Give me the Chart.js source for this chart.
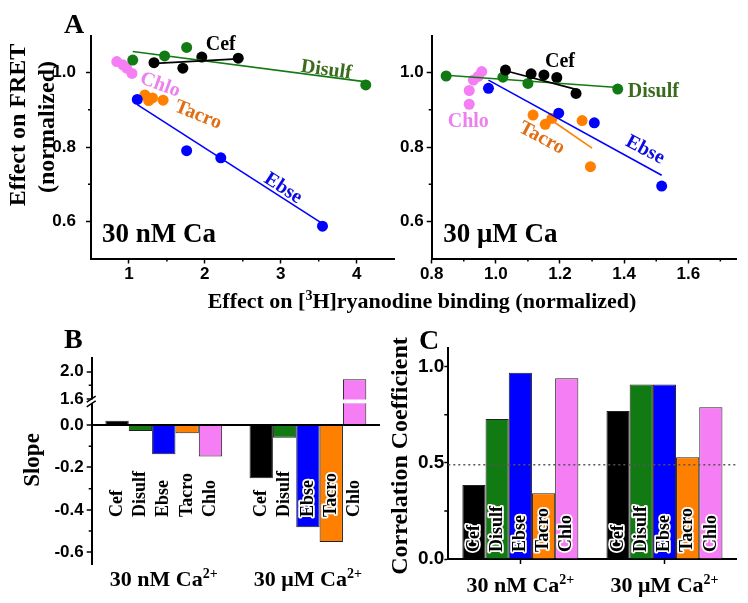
<!DOCTYPE html>
<html>
<head>
<meta charset="utf-8">
<title>FRET vs ryanodine binding</title>
<script src="https://cdn.jsdelivr.net/npm/chart.js@4.4.1/dist/chart.umd.min.js"></script>
<style>
  html, body { margin: 0; padding: 0; background: #fff; }
  #wrap { position: relative; width: 748px; height: 603px; overflow: hidden; background: #fff; }
  #wrap canvas { position: absolute; left: 0; top: 0; }
</style>
</head>
<body>
<div id="wrap">
  <canvas id="panelA1" width="748" height="603"></canvas>
  <canvas id="panelA2" width="748" height="603"></canvas>
  <canvas id="panelB" width="748" height="603"></canvas>
  <canvas id="panelC" width="748" height="603"></canvas>
</div>
<script>
// drugs, in the order used by every panel
const drugs = ['Cef', 'Disulf', 'Ebse', 'Tacro', 'Chlo']
const colors = ['#000000', '#127a12', '#0000ff', '#ff8000', '#f57ef5']
const textColors = ['#000000', '#3b6b1c', '#0a0ae6', '#e26e14', '#ec80ec']

// panel A, 30 nM Ca: [ryanodine binding, FRET]
const nmCef = [[1.33, 1.027], [1.71, 1.012], [1.96, 1.042], [2.44, 1.039]]
const nmDisulf = [[1.05, 1.034], [1.47, 1.045], [1.76, 1.068], [4.12, 0.967]]
const nmEbse = [[1.11, 0.928], [1.76, 0.79], [2.21, 0.771], [3.55, 0.587]]
const nmTacro = [[1.21, 0.94], [1.26, 0.925], [1.31, 0.932], [1.45, 0.926]]
const nmChlo = [[0.84, 1.03], [0.92, 1.021], [0.97, 1.012], [1.04, 0.998]]
// fitted lines (end points)
const nmCefFit = [[1.35, 1.025], [2.43, 1.037]]
const nmDisulfFit = [[1.05, 1.057], [4.1, 0.976]]
const nmEbseFit = [[1.11, 0.914], [3.55, 0.594]]

// panel A, 30 uM Ca
const umCef = [[1.03, 1.007], [1.11, 0.997], [1.15, 0.994], [1.19, 0.987], [1.25, 0.944]]
const umDisulf = [[0.845, 0.991], [1.022, 0.988], [1.1, 0.971], [1.38, 0.956]]
const umEbse = [[0.977, 0.958], [1.196, 0.891], [1.307, 0.865], [1.517, 0.695]]
const umTacro = [[1.116, 0.886], [1.154, 0.861], [1.175, 0.877], [1.269, 0.871], [1.295, 0.747]]
const umChlo = [[0.917, 0.952], [0.917, 0.915], [0.93, 0.98], [0.945, 0.99], [0.956, 1.003]]
const umCefFit = [[1.03, 1.005], [1.25, 0.955]]
const umDisulfFit = [[0.845, 0.993], [1.38, 0.96]]
const umEbseFit = [[0.977, 0.98], [1.517, 0.724]]
const umTacroFit = [[1.16, 0.88], [1.3, 0.797]]

// panels B and C
const groups = ['30 nM Ca', '30 μM Ca']
const slopeNM = [0.02, -0.028, -0.138, -0.039, -0.149]
const slopeUM = [-0.251, -0.06, -0.482, -0.552, 1.89]
const corrNM = [0.385, 0.728, 0.969, 0.342, 0.94]
const corrUM = [0.77, 0.908, 0.908, 0.529, 0.789]
const corrThreshold = 0.49

// tick values
const nmXTicks = [1, 2, 3, 4]
const nmXMinor = [1.5, 2.5, 3.5]
const umXTicks = [0.8, 1.0, 1.2, 1.4, 1.6]
const umXMinor = [0.9, 1.1, 1.3, 1.5, 1.7]
const fretTicks = [0.6, 0.8, 1.0]
const fretMinor = [0.7, 0.9]
const slopeTicks = [-0.6, -0.4, -0.2, 0, 1.6, 2.0]
const slopeMinor = [-0.5, -0.3, -0.1, 1.8]
const corrTicks = [0, 0.5, 1.0]
const corrMinor = [0.25, 0.75]

const serif = '"Liberation Serif", "Times New Roman", serif'
const sans = '"Liberation Sans", Arial, sans-serif'
Chart.defaults.color = '#000'

// y axis with a break between slopeBreak.low and slopeBreak.high
const slopeBreak = { low: 0.1, high: 1.6, lowFrac: 0.7787, gapFrac: 0.0232 }
class BrokenScale extends Chart.LinearScale {
    getPixelForValue(v) {
        const b = slopeBreak, H = this.bottom - this.top
        if (v <= b.low) return this.bottom - (v - this.min) / (b.low - this.min) * H * b.lowFrac
        const y0 = this.bottom - H * (b.lowFrac + b.gapFrac)
        if (v >= b.high) return y0 - (v - b.high) / (this.max - b.high) * (y0 - this.top)
        return this.bottom - H * b.lowFrac - (v - b.low) / (b.high - b.low) * H * b.gapFrac
    }
    getValueForPixel(p) {
        const b = slopeBreak, H = this.bottom - this.top
        const yLow = this.bottom - H * b.lowFrac
        const y0 = this.bottom - H * (b.lowFrac + b.gapFrac)
        if (p >= yLow) return this.min + (this.bottom - p) / (H * b.lowFrac) * (b.low - this.min)
        if (p <= y0) return b.high + (y0 - p) / (y0 - this.top) * (this.max - b.high)
        return b.low + (yLow - p) / (H * b.gapFrac) * (b.high - b.low)
    }
}
BrokenScale.id = 'broken'
BrokenScale.defaults = Chart.LinearScale.defaults
Chart.register(BrokenScale)

function toXY(pairs) {
    return pairs.map(p => ({ x: p[0], y: p[1] }))
}

function drawText(ctx, s, x, y, o) {
    ctx.save()
    ctx.translate(x, y)
    if (o.rot) ctx.rotate(o.rot * Math.PI / 180)
    ctx.font = o.font
    ctx.textAlign = o.align || 'center'
    ctx.textBaseline = o.baseline || 'middle'
    if (o.halo) {
        ctx.lineWidth = o.halo
        ctx.lineJoin = 'round'
        ctx.strokeStyle = '#fff'
        ctx.strokeText(s, 0, 0)
    }
    ctx.fillStyle = o.color || '#000'
    ctx.fillText(s, 0, 0)
    ctx.restore()
}

// text with superscript parts: [[text, isSup], ...]
function drawSup(ctx, parts, x, y, size, align) {
    ctx.save()
    ctx.textAlign = 'left'
    ctx.textBaseline = 'alphabetic'
    ctx.fillStyle = '#000'
    const fonts = parts.map(p => `bold ${p[1] ? Math.round(size * 0.62) : size}px ${serif}`)
    const widths = parts.map((p, i) => { ctx.font = fonts[i]; return ctx.measureText(p[0]).width })
    let cx = align === 'center' ? x - widths.reduce((a, b) => a + b, 0) / 2 : x
    parts.forEach((p, i) => {
        ctx.font = fonts[i]
        ctx.fillText(p[0], cx, p[1] ? y - size * 0.38 : y)
        cx += widths[i]
    })
    ctx.restore()
}

function minorTicks(chart, axis, values, len) {
    const ctx = chart.ctx, sc = chart.scales[axis], a = chart.chartArea
    ctx.save()
    ctx.strokeStyle = '#000'
    ctx.lineWidth = 1.5
    ctx.beginPath()
    values.forEach(v => {
        const p = sc.getPixelForValue(v)
        if (sc.isHorizontal()) { ctx.moveTo(p, a.bottom); ctx.lineTo(p, a.bottom + len) }
        else { ctx.moveTo(a.left, p); ctx.lineTo(a.left - len, p) }
    })
    ctx.stroke()
    ctx.restore()
}

function barNames(chart, yBase) {
    chart.data.datasets.forEach((ds, i) => {
        chart.getDatasetMeta(i).data.forEach(bar => {
            drawText(chart.ctx, drugs[i], bar.x, yBase, { rot: -90, align: 'left', font: `bold 18px ${serif}`, halo: 3.5 })
        })
    })
}

function groupLabels(chart, y) {
    const xs = chart.scales.x
    groups.forEach((g, i) => {
        drawSup(chart.ctx, [[g, false], ['2+', true]], xs.getPixelForValue(i), y, 22, 'center')
    })
}

// layout helper: puts the chart area at the given page box
const YW = 60, XH = 30
function padFor(box) {
    return { left: box.left - YW, right: 748 - box.right, top: box.top, bottom: 603 - box.bottom - XH }
}

function axisGrid(len) {
    return { drawOnChartArea: false, tickLength: len, tickColor: '#000', tickWidth: 1.5 }
}

function scatterPanel(id, sets, fits, box, xMin, xMax, xTicks, xFmt, xMinor, yPad, notes, caption, extra) {
    const datasets = []
    fits.forEach((f, i) => {
        if (f) datasets.push({ data: toXY(f), showLine: true, borderColor: colors[i], borderWidth: 1.6, pointRadius: 0 })
    })
    sets.forEach((s, i) => {
        datasets.push({ data: toXY(s), pointRadius: 5.5, pointBackgroundColor: colors[i], pointBorderWidth: 0 })
    })
    new Chart(document.getElementById(id), {
        type: 'scatter',
        data: { datasets },
        options: {
            responsive: false,
            animation: false,
            layout: { padding: padFor(box) },
            plugins: { legend: { display: false }, tooltip: { enabled: false } },
            scales: {
                x: {
                    min: xMin, max: xMax,
                    afterFit: s => { s.height = XH },
                    afterBuildTicks: s => { s.ticks = xTicks.map(v => ({ value: v })) },
                    ticks: { callback: xFmt, font: { family: sans, weight: 'bold', size: 17 }, padding: 1 },
                    border: { color: '#000', width: 2 },
                    grid: axisGrid(5)
                },
                y: {
                    min: 0.5, max: 1.1,
                    afterFit: s => { s.width = YW },
                    afterBuildTicks: s => { s.ticks = fretTicks.map(v => ({ value: v })) },
                    ticks: { callback: v => v.toFixed(1), font: { family: sans, weight: 'bold', size: 17 }, padding: yPad },
                    border: { color: '#000', width: 2 },
                    grid: axisGrid(5)
                }
            }
        },
        plugins: [{
            id: 'deco',
            afterDraw(chart) {
                const ctx = chart.ctx, xs = chart.scales.x, ys = chart.scales.y
                minorTicks(chart, 'x', xMinor, 3)
                minorTicks(chart, 'y', fretMinor, 3)
                notes.forEach(([t, x, y, rot]) => {
                    drawText(ctx, t, xs.getPixelForValue(x), ys.getPixelForValue(y),
                        { rot, font: `bold 20px ${serif}`, color: textColors[drugs.indexOf(t)] })
                })
                drawText(ctx, caption[0], xs.getPixelForValue(caption[1]), ys.getPixelForValue(caption[2]),
                    { align: 'left', baseline: 'alphabetic', font: `bold 27px ${serif}` })
                if (extra) extra(ctx)
            }
        }]
    })
}

// panel A, left
scatterPanel('panelA1',
    [nmCef, nmDisulf, nmEbse, nmTacro, nmChlo],
    [nmCefFit, nmDisulfFit, nmEbseFit, null, null],
    { left: 91, top: 35.5, right: 394.6, bottom: 258.5 },
    0.5, 4.5, nmXTicks, v => String(v), nmXMinor, 10,
    [['Cef', 2.21, 1.075, 0], ['Disulf', 3.6, 1.007, 8], ['Chlo', 1.41, 0.967, 20],
     ['Tacro', 1.91, 0.886, 22], ['Ebse', 3.03, 0.689, 33]],
    ['30 nM Ca', 0.645, 0.545],
    ctx => {
        drawText(ctx, 'A', 64, 33, { align: 'left', baseline: 'alphabetic', font: `bold 28px ${serif}` })
        drawText(ctx, 'Effect on FRET', 18.5, 125, { rot: -90, font: `bold 24px ${serif}` })
        drawText(ctx, '(normalized)', 48, 127, { rot: -90, font: `bold 24px ${serif}` })
        drawSup(ctx, [['Effect on [', false], ['3', true], ['H]ryanodine binding (normalized)', false]], 422, 308, 22, 'center')
    })

// panel A, right
scatterPanel('panelA2',
    [umCef, umDisulf, umEbse, umTacro, umChlo],
    [umCefFit, umDisulfFit, umEbseFit, umTacroFit, null],
    { left: 431.7, top: 35.5, right: 736.4, bottom: 258.5 },
    0.8, 1.75, umXTicks, v => v.toFixed(1), umXMinor, 3,
    [['Cef', 1.2, 1.03, 0], ['Disulf', 1.491, 0.949, 0], ['Chlo', 0.914, 0.868, 0],
     ['Tacro', 1.143, 0.824, 28], ['Ebse', 1.465, 0.792, 28]],
    ['30 μM Ca', 0.836, 0.545],
    null)

// panel B, slopes
new Chart(document.getElementById('panelB'), {
    type: 'bar',
    data: {
        labels: groups,
        datasets: drugs.map((d, i) => ({
            label: d, data: [slopeNM[i], slopeUM[i]],
            backgroundColor: colors[i], borderColor: '#222', borderWidth: 1
        }))
    },
    options: {
        responsive: false,
        animation: false,
        layout: { padding: { left: 91.7 - YW, right: 748 - 380, top: 358, bottom: 603 - 565 } },
        plugins: { legend: { display: false }, tooltip: { enabled: false } },
        datasets: { bar: { categoryPercentage: 0.81, barPercentage: 1 } },
        scales: {
            x: { display: false },
            y: {
                type: 'broken', min: -0.66, max: 2.2,
                afterFit: s => { s.width = YW },
                afterBuildTicks: s => { s.ticks = slopeTicks.map(v => ({ value: v })) },
                ticks: { callback: v => v.toFixed(1), font: { family: sans, weight: 'bold', size: 17 }, padding: 3 },
                border: { color: '#000', width: 2 },
                grid: {
                    drawOnChartArea: true,
                    color: c => (c.tick && c.tick.value === 0 ? '#000' : 'rgba(0,0,0,0)'),
                    lineWidth: c => (c.tick && c.tick.value === 0 ? 2 : 0),
                    tickLength: 5, tickColor: '#000', tickWidth: 1.5
                }
            }
        }
    },
    plugins: [{
        id: 'decoB',
        afterDraw(chart) {
            const ctx = chart.ctx, a = chart.chartArea, ys = chart.scales.y
            minorTicks(chart, 'y', slopeMinor, 3)
            // axis break
            const y1 = ys.getPixelForValue(slopeBreak.high), y2 = ys.getPixelForValue(slopeBreak.low)
            ctx.save()
            ctx.fillStyle = '#fff'
            ctx.fillRect(a.left - 2, y1 + 0.5, a.right - a.left + 2, y2 - y1 - 1)
            ctx.strokeStyle = '#000'
            ctx.lineWidth = 1.5
            ctx.beginPath()
            ctx.moveTo(a.left - 5, y1 + 3); ctx.lineTo(a.left + 4, y1 - 3)
            ctx.moveTo(a.left - 5, y2 + 3); ctx.lineTo(a.left + 4, y2 - 3)
            ctx.stroke()
            ctx.restore()
            barNames(chart, 517)
            groupLabels(chart, 586)
            drawText(ctx, 'B', 64, 348, { align: 'left', baseline: 'alphabetic', font: `bold 28px ${serif}` })
            drawText(ctx, 'Slope', 33, 460, { rot: -90, font: `bold 23px ${serif}` })
        }
    }]
})

// panel C, correlation coefficients
new Chart(document.getElementById('panelC'), {
    type: 'bar',
    data: {
        labels: groups,
        datasets: drugs.map((d, i) => ({
            label: d, data: [corrNM[i], corrUM[i]],
            backgroundColor: colors[i], borderColor: '#222', borderWidth: 1
        }))
    },
    options: {
        responsive: false,
        animation: false,
        layout: { padding: padFor({ left: 448.3, top: 347.5, right: 736.5, bottom: 559 }) },
        plugins: { legend: { display: false }, tooltip: { enabled: false } },
        datasets: { bar: { categoryPercentage: 0.805, barPercentage: 1 } },
        scales: {
            x: {
                afterFit: s => { s.height = XH },
                ticks: { display: false },
                border: { color: '#000', width: 2 },
                grid: Object.assign(axisGrid(5), { offset: false })
            },
            y: {
                min: 0, max: 1.1,
                afterFit: s => { s.width = YW },
                afterBuildTicks: s => { s.ticks = corrTicks.map(v => ({ value: v })) },
                ticks: { callback: v => v.toFixed(1), font: { family: sans, weight: 'bold', size: 19 }, padding: 0 },
                border: { color: '#000', width: 2 },
                grid: axisGrid(4)
            }
        }
    },
    plugins: [{
        id: 'decoC',
        afterDraw(chart) {
            const ctx = chart.ctx, a = chart.chartArea, ys = chart.scales.y
            minorTicks(chart, 'y', corrMinor, 4)
            const yt = ys.getPixelForValue(corrThreshold)
            ctx.save()
            ctx.strokeStyle = '#555'
            ctx.lineWidth = 1.5
            ctx.setLineDash([2, 3])
            ctx.beginPath()
            ctx.moveTo(a.left, yt); ctx.lineTo(a.right, yt)
            ctx.stroke()
            ctx.restore()
            barNames(chart, 552)
            groupLabels(chart, 592)
            drawText(ctx, 'C', 419, 349, { align: 'left', baseline: 'alphabetic', font: `bold 28px ${serif}` })
            drawText(ctx, 'Correlation Coefficient', 401, 456, { rot: -90, font: `bold 24px ${serif}` })
        }
    }]
})
</script>
</body>
</html>
